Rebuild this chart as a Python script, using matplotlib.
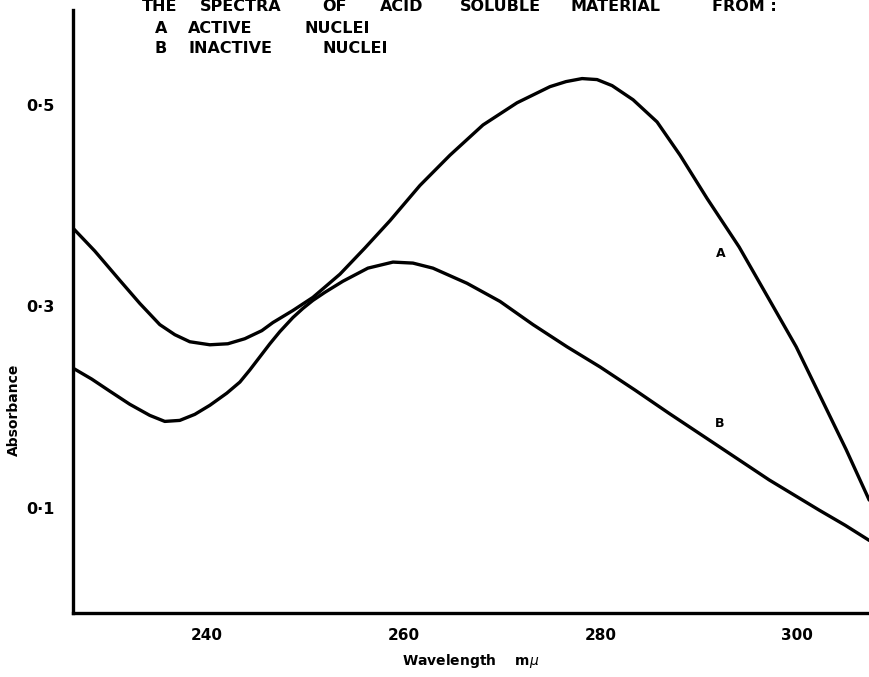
import numpy as np
import matplotlib.pyplot as plt

# absorption spectra
wl_a = [226.27, 228.61, 231.15, 233.19, 235.22, 236.75, 238.27, 240.31, 242.14,
        243.86, 245.59, 246.71, 248.75, 250.78, 253.53, 256.07, 258.61, 261.66,
        264.71, 268.07, 271.53, 274.88, 276.51, 278.14, 279.66, 281.19, 283.32,
        285.76, 288.10, 290.85, 294.10, 297.15, 299.90, 302.54, 304.98, 307.32]
abs_a = [0.379, 0.355, 0.326, 0.303, 0.282, 0.272, 0.265, 0.262, 0.263,
         0.268, 0.276, 0.284, 0.296, 0.309, 0.332, 0.358, 0.385, 0.420,
         0.450, 0.480, 0.502, 0.518, 0.523, 0.526, 0.525, 0.519, 0.505,
         0.483, 0.450, 0.407, 0.359, 0.307, 0.260, 0.207, 0.158, 0.108]

wl_b = [226.37, 228.30, 230.14, 232.17, 234.20, 235.73, 237.25, 238.78, 240.31,
        242.03, 243.36, 244.37, 245.39, 246.41, 247.42, 248.75, 249.76, 250.78,
        252.00, 253.83, 256.37, 258.92, 260.95, 262.98, 266.44, 269.80, 273.15,
        276.61, 279.97, 283.53, 286.98, 292.07, 297.15, 302.24, 304.88, 307.32]
abs_b = [0.239, 0.228, 0.216, 0.203, 0.192, 0.186, 0.187, 0.193, 0.202,
         0.214, 0.225, 0.237, 0.250, 0.263, 0.275, 0.289, 0.298, 0.306,
         0.314, 0.325, 0.338, 0.344, 0.343, 0.338, 0.323, 0.305, 0.282,
         0.260, 0.240, 0.217, 0.194, 0.161, 0.128, 0.098, 0.083, 0.068]

x_ticks = [240, 260, 280, 300]
y_ticks = [0.1, 0.3, 0.5]
y_ticklabels = ["0·1", "0·3", "0·5"]

# titel wort fuer wort, mit x-position in pixel
zeile1 = [("THE", 142), ("SPECTRA", 200), ("OF", 322), ("ACID", 380),
          ("SOLUBLE", 460), ("MATERIAL", 570), ("FROM :", 712)]
zeile2 = [("A", 155), ("ACTIVE", 188), ("NUCLEI", 305)]
zeile3 = [("B", 155), ("INACTIVE", 188), ("NUCLEI", 322)]

W, H = 869, 677
fig = plt.figure(figsize=(W / 100, H / 100), dpi=100)
ax = fig.add_axes([73 / W, (H - 613) / H, (W - 73) / W, (613 - 10) / H])

ax.plot(wl_a, abs_a, color="black", lw=2.4, solid_capstyle="round", solid_joinstyle="round")
ax.plot(wl_b, abs_b, color="black", lw=2.4, solid_capstyle="round", solid_joinstyle="round")

ax.set_xlim(226.4, 307.3)
ax.set_ylim(-0.004, 0.594)

ax.spines["top"].set_visible(False)
ax.spines["right"].set_visible(False)
ax.spines["left"].set_linewidth(2.4)
ax.spines["bottom"].set_linewidth(2.4)

ax.set_xticks(x_ticks)
ax.set_xticklabels([str(t) for t in x_ticks], fontsize=11, fontweight="bold")
ax.set_yticks(y_ticks)
ax.set_yticklabels(y_ticklabels, fontsize=11.5, fontweight="bold")
ax.tick_params(axis="x", length=0, pad=11)
ax.tick_params(axis="y", length=0, pad=13)

ax.set_xlabel(r"Wavelength    m$\mu$", fontsize=10, fontweight="bold", labelpad=6)
ax.set_ylabel("Absorbance", fontsize=10, fontweight="bold")
ax.yaxis.set_label_coords(-0.066, 0.337)

# kurven beschriften
ax.text(292.2, 0.353, "A", fontsize=9, fontweight="bold", ha="center", va="center")
ax.text(292.1, 0.184, "B", fontsize=9, fontweight="bold", ha="center", va="center")

# titel oben, erste zeile am rand angeschnitten
for zeile, y in [(zeile1, 11), (zeile2, 33), (zeile3, 53)]:
    for wort, x in zeile:
        fig.text(x / W, 1 - y / H, wort, fontsize=11.5, fontweight="bold", va="baseline")

fig.savefig("out.png", dpi=100)
